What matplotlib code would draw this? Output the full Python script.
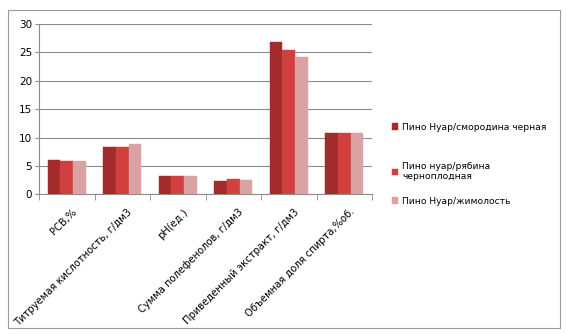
import matplotlib
matplotlib.use("Agg")
import matplotlib.pyplot as plt
import numpy as np
from matplotlib.patches import Rectangle
from matplotlib.transforms import ScaledTranslation

categories = ["РСВ,%", "Титруемая кислотность, г/дм3", "pH(ед.)",
              "Сумма полефенолов, г/дм3", "Приведенный экстракт, г/дм3",
              "Объемная доля спирта,%об."]
series_names = ["Пино Нуар/смородина черная", "Пино нуар/рябина\nчерноплодная",
                "Пино Нуар/жимолость"]
s1 = [6.0, 8.3, 3.2, 2.4, 26.8, 10.8]
s2 = [5.8, 8.3, 3.2, 2.7, 25.5, 10.8]
s3 = [5.8, 8.9, 3.2, 2.6, 24.1, 10.8]
colors = ["#A32B2B", "#D23F3F", "#D9A3A3"]
yticks = [0, 5, 10, 15, 20, 25, 30]

plt.rcParams['font.family'] = ['DejaVu Sans']
fig = plt.figure(figsize=(5.67, 3.34), dpi=100)
fig.patches.append(Rectangle((8/567, 6/334), 552/567, 318/334, transform=fig.transFigure,
                             fill=False, edgecolor="#9a9a9a", linewidth=0.8))
ax = fig.add_axes([39/567, 1 - 194.3/334, 333/567, 170.3/334])

x = np.arange(len(categories))
w = 0.23
bars = []
for i, (vals, c) in enumerate(zip([s1, s2, s3], colors)):
    b = ax.bar(x + (i - 1) * w, vals, width=w, color=c, edgecolor=c, linewidth=0.3,
               label=series_names[i], zorder=3)
    bars.append(b)

ax.set_xlim(-0.5, len(categories) - 0.5)
ax.set_ylim(0, 30)
ax.set_yticks(yticks)
ax.set_yticklabels([str(v) for v in yticks], fontsize=7.5)
ax.yaxis.grid(True, color="#8c8c8c", linewidth=0.8, zorder=0)
ax.set_axisbelow(True)
ax.set_xticks(x)
ax.set_xticklabels(categories, rotation=45, ha="right", va="top",
                   rotation_mode="anchor", fontsize=7.2)
ax.tick_params(axis="x", length=0, pad=9)
off = ScaledTranslation(0.05, 0, fig.dpi_scale_trans)
for lbl in ax.get_xticklabels():
    lbl.set_transform(lbl.get_transform() + off)
ax.set_xticks(np.arange(-0.5, len(categories) + 0.5, 1), minor=True)
ax.tick_params(axis="x", which="minor", length=4, color="#8c8c8c", direction="out")
ax.tick_params(axis="y", length=3, color="#8c8c8c", direction="out", pad=2)
for s in ["top", "right"]:
    ax.spines[s].set_visible(False)
for s in ["left", "bottom"]:
    ax.spines[s].set_color("#8c8c8c")

tops = [121, 160, 195]
for b, name, t in zip(bars, series_names, tops):
    leg = fig.legend([b], [name], loc="upper left", bbox_to_anchor=(390/567, 1 - t/334),
                     frameon=False, fontsize=6.6, handlelength=0.7, handleheight=0.7,
                     handletextpad=0.4, borderaxespad=0, borderpad=0.2,
                     labelspacing=0.6)

fig.savefig("out.png", dpi=100)
